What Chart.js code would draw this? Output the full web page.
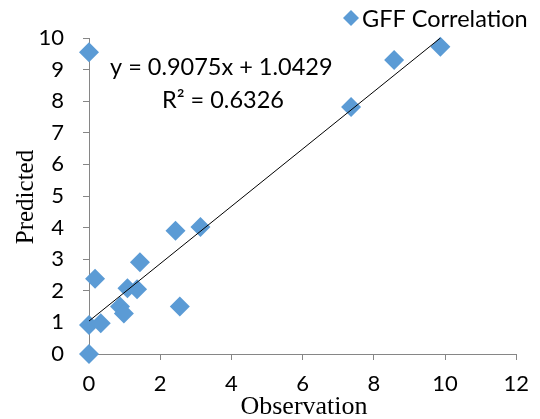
<!DOCTYPE html>
<html>
<head>
<meta charset="utf-8">
<script src="https://cdn.jsdelivr.net/npm/chart.js@4/dist/chart.umd.min.js"></script>
<style>
  html, body { margin: 0; padding: 0; background: #fff; }
  #wrap { width: 540px; height: 419px; }
</style>
</head>
<body>
<div id="wrap"><canvas id="chart" width="540" height="419"></canvas></div>
<script>
// valores
const observation = [0, 0, 0, 0.17, 0.33, 0.87, 0.98, 1.08, 1.35, 1.43, 2.43, 2.55, 3.13, 7.36, 8.57, 9.87];
const predicted   = [9.55, 0, 0.92, 2.38, 0.97, 1.5, 1.28, 2.08, 2.05, 2.9, 3.9, 1.5, 4.02, 7.82, 9.3, 9.72];
const xTicks = [0, 2, 4, 6, 8, 10, 12];
const yTicks = [0, 1, 2, 3, 4, 5, 6, 7, 8, 9, 10];
const slope = 0.9075, intercept = 1.0429, r2 = 0.6326;

const pontos = observation.map((x, i) => ({ x: x, y: predicted[i] }));
const xMax = Math.max(...observation);
const tendencia = [
    { x: 0, y: intercept },
    { x: xMax, y: slope * xMax + intercept },
];

const azul = '#5B9BD5',
    cinza = '#868686',
    fonteTick = { family: 'Lato', size: 22 };

const textos = {
    id: 'textos',
    afterDraw(chart) {
        const ctx = chart.ctx;
        ctx.save();
        // legenda
        ctx.fillStyle = azul;
        ctx.beginPath();
        ctx.moveTo(351, 10);
        ctx.lineTo(359, 18);
        ctx.lineTo(351, 26);
        ctx.lineTo(343, 18);
        ctx.closePath();
        ctx.fill();
        ctx.fillStyle = '#000';
        ctx.font = '23.5px Lato';
        ctx.textBaseline = 'middle';
        ctx.textAlign = 'left';
        ctx.fillText('GFF Correlation', 362, 19);
        // equacao
        ctx.fillText('y = ' + slope + 'x + ' + intercept, 110, 67);
        ctx.fillText('R² = ' + r2, 162, 100);
        // titulos dos eixos
        ctx.textAlign = 'center';
        ctx.textBaseline = 'alphabetic';
        ctx.font = '26px "Liberation Serif"';
        ctx.fillText('Observation', 304, 414);
        ctx.font = '25px "Liberation Serif"';
        ctx.translate(33, 197);
        ctx.rotate(-Math.PI / 2);
        ctx.fillText('Predicted', 0, 0);
        ctx.restore();
    }
};

new Chart(document.getElementById('chart'), {
    type: 'scatter',
    data: {
        datasets: [
            {
                type: 'line',
                label: 'Linear',
                data: tendencia,
                borderColor: '#000',
                borderWidth: 1,
                pointRadius: 0,
                fill: false,
                order: 0,
            },
            {
                label: 'GFF Correlation',
                data: pontos,
                pointStyle: 'rectRot',
                pointRadius: 10,
                pointHoverRadius: 10,
                backgroundColor: azul,
                borderColor: azul,
                borderWidth: 0,
                clip: false,
                order: 1,
            },
        ]
    },
    options: {
        responsive: false,
        animation: false,
        layout: { padding: { top: 38, right: 22, left: 0, bottom: 0 } },
        plugins: {
            legend: { display: false },
            tooltip: { enabled: false },
        },
        scales: {
            x: {
                type: 'linear',
                min: 0,
                max: 12,
                afterBuildTicks: s => { s.ticks = xTicks.map(v => ({ value: v })); },
                afterFit: s => { s.height = 65; },
                ticks: { color: '#000', font: fonteTick, padding: 11, maxRotation: 0 },
                grid: { drawOnChartArea: false, drawTicks: true, tickLength: 6, color: cinza },
                border: { color: cinza, width: 1 },
            },
            y: {
                type: 'linear',
                min: 0,
                max: 10,
                afterBuildTicks: s => { s.ticks = yTicks.map(v => ({ value: v })); },
                afterFit: s => { s.width = 89; },
                ticks: { color: '#000', font: fonteTick, padding: 19 },
                grid: { drawOnChartArea: false, drawTicks: true, tickLength: 6, color: cinza },
                border: { color: cinza, width: 1 },
            },
        },
    },
    plugins: [textos],
});
</script>
</body>
</html>
